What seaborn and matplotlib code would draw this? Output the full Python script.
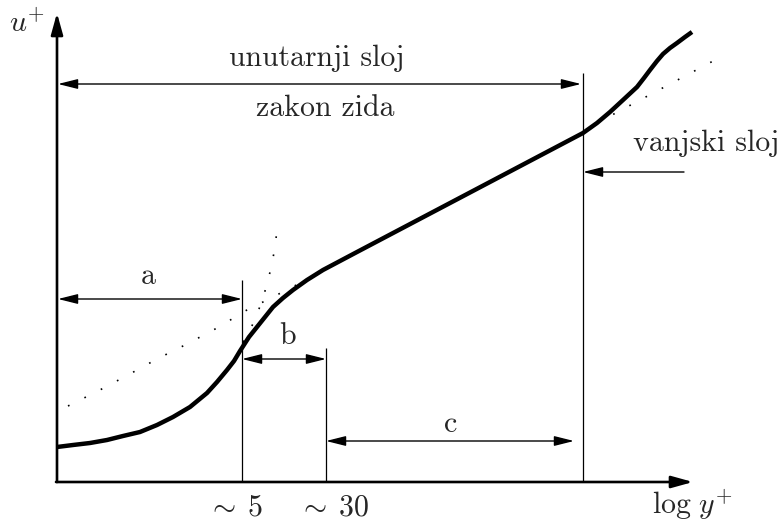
import matplotlib
matplotlib.use("Agg")
import matplotlib.pyplot as plt
import pandas as pd
import seaborn as sns

sns.set_theme(style="white")
plt.rcParams["font.family"] = ["cmr10", "DejaVu Serif"]
plt.rcParams["mathtext.fontset"] = "cm"
plt.rcParams["axes.formatter.use_mathtext"] = True

# Schematic velocity profile near a wall: horizontal = log y+, vertical = u+
profile_x = [0, 16, 33, 50, 66, 83, 100, 116, 133, 150, 160, 170, 177, 183,
             192, 200, 208, 216, 226, 236, 250, 266, 283, 300, 526, 540, 553,
             566, 580, 587, 593, 600, 606, 613, 620, 628, 635]
profile_u = [35, 37, 39, 42, 46, 50, 57, 65, 75, 89, 100, 112, 121, 131,
             145, 155, 165, 175, 184, 192, 202, 212, 221, 230, 349, 359, 370,
             382, 395, 404, 412, 421, 428, 434, 439, 445, 450]

# Viscous sublayer law u+ = y+ continued past y+ ~ 5
viscous_x = [186, 193, 200, 206, 210, 213, 216, 218, 220]
viscous_u = [140, 152, 167, 185, 197, 210, 224, 235, 252]

# Logarithmic law, inner and outer continuations
loglaw_in_x = [11, 41, 71, 100, 130, 160, 175, 188, 218, 233, 250]
loglaw_in_u = [76, 91, 107, 123, 138, 154, 163, 171, 186, 194, 202]
loglaw_out_x = [540, 658]
loglaw_out_u = [359, 422]

# Region boundaries (y+ ~ 5, y+ ~ 30, edge of the inner layer)
bound_x = [185, 269, 526]
bound_top = [202, 134, 409]
tick_labels = [r"$\sim\;5$", r"$\sim\;30$"]
tick_offsets = [-7, 8]

fig = plt.figure(figsize=(7.81, 5.24), dpi=100)
ax = fig.add_axes([0, 0, 1, 1])
ax.set_xlim(-57, 724)
ax.set_ylim(-42, 482)
ax.axis("off")

profile = pd.DataFrame({"x": profile_x, "u": profile_u})
viscous = pd.DataFrame({"x": viscous_x, "u": viscous_u})
log_in = pd.DataFrame({"x": loglaw_in_x, "u": loglaw_in_u})
log_out = pd.DataFrame({"x": loglaw_out_x, "u": loglaw_out_u})

dots = (0, (1, 10))
for df in (viscous, log_in, log_out):
    sns.lineplot(data=df, x="x", y="u", ax=ax, color="black", lw=1.2,
                 linestyle=dots, sort=False, estimator=None, legend=False)
sns.lineplot(data=profile, x="x", y="u", ax=ax, color="black", lw=3.2,
             sort=False, estimator=None, legend=False,
             solid_capstyle="butt", solid_joinstyle="round")

# Boundary lines
ax.vlines(bound_x, 0, bound_top, colors="black", lw=0.9)

# Coordinate axes with arrow heads
axis_style = "-|>,head_length=0.65,head_width=0.18"
ax.annotate("", xy=(0, 469), xytext=(0, 0),
            arrowprops=dict(arrowstyle=axis_style, color="black", lw=1.9,
                            shrinkA=0, shrinkB=0, mutation_scale=20))
ax.annotate("", xy=(636, 0), xytext=(-1, 0),
            arrowprops=dict(arrowstyle=axis_style, color="black", lw=1.9,
                            shrinkA=0, shrinkB=0, mutation_scale=20))


def span(x0, x1, y, style="<|-|>"):
    ax.annotate("", xy=(x1, y), xytext=(x0, y),
                arrowprops=dict(arrowstyle=f"{style},head_length=0.6,head_width=0.15",
                                color="black", lw=1.0, shrinkA=0, shrinkB=0,
                                mutation_scale=20))


span(1, 524, 398)
span(1, 185, 183)
span(185, 269, 123)
span(269, 517, 41)
span(627, 526, 310, style="-|>")

fs = 21.5
ax.text(260, 424, "unutarnji sloj", fontsize=fs, ha="center", va="center")
ax.text(268, 374, "zakon zida", fontsize=fs, ha="center", va="center")
ax.text(649, 339, "vanjski sloj", fontsize=fs, ha="center", va="center")
ax.text(91, 206, "a", fontsize=fs, ha="center", va="center")
ax.text(231, 146, "b", fontsize=fs, ha="center", va="center")
ax.text(394, 58, "c", fontsize=fs, ha="center", va="center")

for bx, lab, off in zip(bound_x[:2], tick_labels, tick_offsets):
    ax.text(bx + off, -33, lab, fontsize=fs, ha="center", va="baseline")
ax.text(635, -32, r"$\log\,y^{+}$", fontsize=fs, ha="center", va="baseline")
ax.text(-30, 458, r"$u^{+}$", fontsize=fs, ha="center", va="center")

fig.savefig("out.png", dpi=100)
